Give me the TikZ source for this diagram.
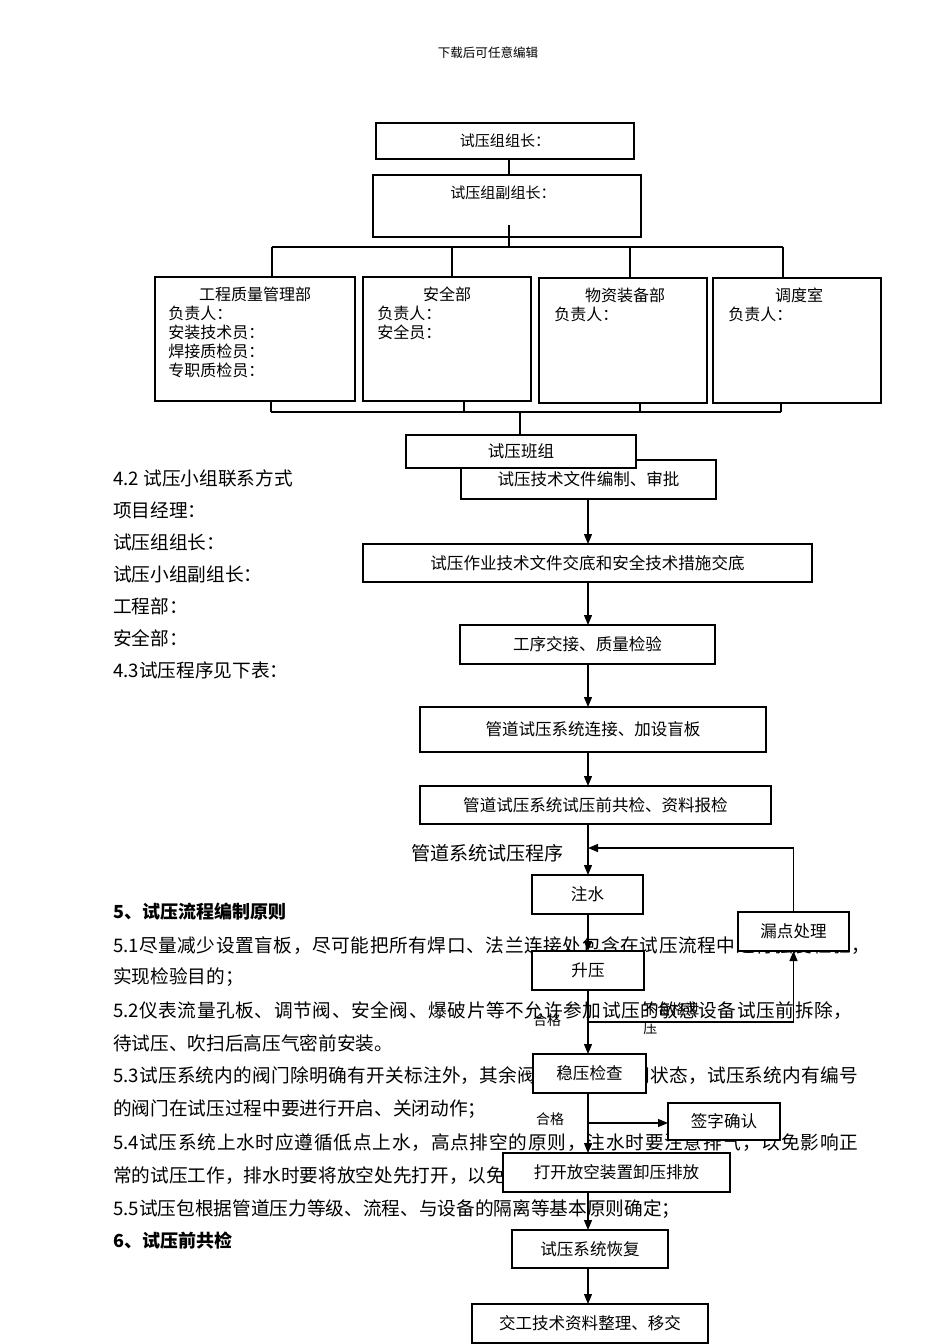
\documentclass[tikz,border=0pt]{standalone}
\usepackage{fontspec}
\setmainfont{Noto Sans CJK SC}
\usetikzlibrary{arrows.meta}
\makeatletter
\newcommand\spreadln[3]{\makebox[#1][s]{#2\@tfor\@ch:=#3\do{\@ch\hfil}\unskip}}
\makeatother
\newcommand\fsz[1]{\fontsize{#1}{#1}\selectfont}
\begin{document}
\begin{tikzpicture}[x=0.75pt,y=-0.75pt,
  box/.style={draw,line width=0.9pt,fill=white,inner sep=0pt,outer sep=0pt,font=\fsz{12.4}},
  sz/.style 2 args={minimum width=#1*0.75pt,minimum height=#2*0.75pt},
  ln/.style={line width=0.9pt},
  arr/.style={line width=0.9pt,-{Triangle[length=7.5pt,width=6pt]}},
  body/.style={anchor=west,inner sep=0pt,font=\fsz{14}},
  head/.style={anchor=west,inner sep=0pt,font=\fsz{13.5}\bfseries},
  org/.style={inner sep=0pt,font=\fsz{12}},
  lab/.style={inner sep=0pt,font=\fsz{10.5}}]
\useasboundingbox (0,0) rectangle (950,1344);

% header
\node[inner sep=0pt,font=\fsz{9.4}] (hdr) at (488,53) {下载后可任意编辑};

% ---------- org chart ----------
\node[box,sz={258}{36},font=\fsz{11.3}] (g1) at (505,141) {试压组组长：};
\node[box,sz={268}{62}] (g2) at (507,206) {};
\node[org,font=\fsz{11.3}] (g2t) at (503,193) {试压组副组长：};

\node[box,sz={200}{124}] (dA) at (255,339) {};
\node[org] (dAh) at (255,294) {工程质量管理部};
\foreach \t/\y [count=\i] in {负责人：/313,安装技术员：/332,焊接质检员：/351,专职质检员：/370}
  {\node[org,anchor=west] (dA\i) at (168,\y) {\t};}

\node[box,sz={168}{124}] (dB) at (447,339) {};
\node[org] (dBh) at (447,294) {安全部};
\node[org,anchor=west] (dB1) at (377,313) {负责人：};
\node[org,anchor=west] (dB2) at (377,332) {安全员：};

\node[box,sz={168}{125}] (dC) at (623,340.5) {};
\node[org] (dCh) at (625,295) {物资装备部};
\node[org,anchor=west] (dC1) at (554,314) {负责人：};

\node[box,sz={168}{125}] (dD) at (797,340.5) {};
\node[org] (dDh) at (799,295) {调度室};
\node[org,anchor=west] (dD1) at (728,314) {负责人：};

\draw[ln] ([xshift=3pt]g1.south) -- ([xshift=3pt]g1.south |- g2.north);
\coordinate (g2in) at (509,225);
\coordinate (busT) at (509,247);
\draw[ln] (g2in) -- (busT);
\coordinate (tA) at (272,247);
\coordinate (tB) at (452,247);
\coordinate (tC) at (630,247);
\coordinate (tD) at (783,247);
\draw[ln] (tA) -- (tD);
\draw[ln] (tA) -- (tA |- dA.north);
\draw[ln] (tB) -- (tB |- dB.north);
\draw[ln] (tC) -- (tC |- dC.north);
\draw[ln] (tD) -- (tD |- dD.north);

\coordinate (bA) at (271,412);
\coordinate (bB) at (464,412);
\coordinate (bC) at (640,412);
\coordinate (bD) at (781,412);
\coordinate (bM) at (520,412);
\draw[ln] (bA) -- (bD);
\draw[ln] (bA |- dA.south) -- (bA);
\draw[ln] (bB |- dB.south) -- (bB);
\draw[ln] (bC |- dC.south) -- (bC);
\draw[ln] (bD |- dD.south) -- (bD);

% ---------- body text ----------
\node[body] (l42) at (113,478) {4.2 试压小组联系方式};
\node[body] (lpm) at (113,510) {项目经理：};
\node[body] (lzz) at (113,542) {试压组组长：};
\node[body] (lfz) at (113,574) {试压小组副组长：};
\node[body] (lgc) at (113,606) {工程部：};
\node[body] (laq) at (113,638) {安全部：};
\node[body] (l43) at (113,670) {4.3试压程序见下表：};
\node[body,font=\fsz{14.3}] (ttl) at (411,853) {管道系统试压程序};

\node[head] (h5) at (113,912) {5、试压流程编制原则};
\node[body] (p51) at (113,946) {\spreadln{567.75pt}{5.1}{尽量减少设置盲板，尽可能把所有焊口、法兰连接处包含在试压流程中进行强度检验，}};
\node[body] (p51b) at (113,977) {实现检验目的；};
\node[body] (p52) at (113,1011) {\spreadln{554.25pt}{5.2}{仪表流量孔板、调节阀、安全阀、爆破片等不允许参加试压的敏感设备试压前拆除，}};
\node[body] (p52b) at (113,1043) {待试压、吹扫后高压气密前安装。};
\node[body] (p53) at (113,1076) {\spreadln{558.75pt}{5.3}{试压系统内的阀门除明确有开关标注外，其余阀门均处于关闭状态，试压系统内有编号}};
\node[body] (p53b) at (113,1109) {的阀门在试压过程中要进行开启、关闭动作；};
\node[body] (p54) at (113,1143) {\spreadln{558.75pt}{5.4}{试压系统上水时应遵循低点上水，高点排空的原则，注水时要注意排气，以免影响正}};
\node[body] (p54b) at (113,1176) {常的试压工作，排水时要将放空处先打开，以免形成负压损坏管道及设备；};
\node[body] (p55) at (113,1209) {5.5试压包根据管道压力等级、流程、与设备的隔离等基本原则确定；};
\node[head] (h6) at (113,1241) {6、试压前共检};

% ---------- flow chart ----------
\coordinate (spine) at (588,0);
\node[box,sz={255}{39}] (bz) at (588.5,479.5) {试压技术文件编制、审批};
\node[box,sz={230}{33}] (bz2) at (521,451.5) {试压班组};
\draw[ln] (bM) -- (bM |- bz2.north);

\node[box,sz={449}{38}] (jd) at (587.5,563) {试压作业技术文件交底和安全技术措施交底};
\node[box,sz={255}{39}] (gx) at (587.5,644.5) {工序交接、质量检验};
\node[box,sz={346}{45}] (lj) at (593,729.5) {管道试压系统连接、加设盲板};
\node[box,sz={351}{38}] (gj) at (595.5,805) {管道试压系统试压前共检、资料报检};
\node[box,sz={111}{39}] (zs) at (587.5,894.5) {注水};
\node[box,sz={112}{39}] (sy) at (588,970.5) {升压};
\node[box,sz={111}{39}] (ld) at (793.5,931.5) {漏点处理};
\node[box,sz={113}{39}] (wy) at (589.5,1073.5) {稳压检查};
\node[box,sz={112}{37}] (qz) at (724,1121.5) {签字确认};
\node[box,sz={227}{39}] (dk) at (616.5,1172.5) {打开放空装置卸压排放};
\node[box,sz={156}{38}] (hf) at (590,1249) {试压系统恢复};
\node[box,sz={236}{39}] (jg) at (590,1323.5) {交工技术资料整理、移交};

\draw[arr] (bz.south -| spine) -- (jd.north -| spine);
\draw[arr] (jd.south -| spine) -- (gx.north -| spine);
\draw[arr] (gx.south -| spine) -- (lj.north -| spine);
\draw[arr] (lj.south -| spine) -- (gj.north -| spine);
\draw[arr] (gj.south -| spine) -- (zs.north -| spine);
\coordinate (fbj) at (588,848);
\draw[arr] (ld.north) |- (fbj);
\draw[arr] (zs.south -| spine) -- (sy.north -| spine);
\draw[arr] (sy.south -| spine) -- (wy.north -| spine);
\coordinate (lk) at (588,1022);
\draw[arr] (lk) -| (ld.south);
\draw[arr] (wy.south -| spine) -- (dk.north -| spine);
\coordinate (qzj) at (588,1123);
\draw[arr] (qzj) -- (qzj -| qz.west);
\draw[arr] (dk.south -| spine) -- (hf.north -| spine);
\draw[arr] (hf.south -| spine) -- (jg.north -| spine);

% labels
\node[lab] (ok1) at (547,1020) {合格};
\node[lab,anchor=west] (ng1) at (643,1009) {不合格泄};
\node[lab,anchor=west] (ng2) at (643,1029) {压};
\node[lab] (ok2) at (550,1119) {合格};
\end{tikzpicture}
\end{document}
